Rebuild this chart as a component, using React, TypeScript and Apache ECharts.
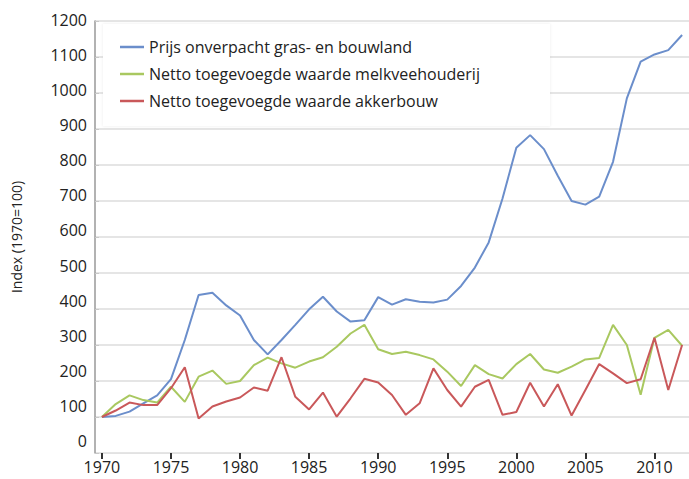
import React, { useEffect, useRef } from "react";
import * as echarts from "echarts";

const years: string[] = [
  "1970","1971","1972","1973","1974","1975","1976","1977","1978","1979",
  "1980","1981","1982","1983","1984","1985","1986","1987","1988","1989",
  "1990","1991","1992","1993","1994","1995","1996","1997","1998","1999",
  "2000","2001","2002","2003","2004","2005","2006","2007","2008","2009",
  "2010","2011","2012",
];

const grondprijs: number[] = [
  100, 103, 115, 138, 160, 205, 314, 439, 445, 410,
  382, 314, 274, 314, 356, 399, 434, 393, 365, 369,
  433, 412, 427, 420, 418, 426, 464, 515, 585, 707,
  848, 883, 844, 770, 700, 690, 712, 809, 985, 1087,
  1107, 1119, 1161,
];

const melkvee: number[] = [
  100, 136, 160, 147, 140, 184, 142, 212, 229, 192,
  200, 244, 265, 249, 237, 254, 266, 295, 332, 356,
  288, 275, 281, 272, 260, 226, 186, 244, 219, 207,
  247, 275, 232, 223, 240, 260, 264, 356, 300, 162,
  320, 342, 298,
];

const akkerbouw: number[] = [
  100, 118, 140, 133, 133, 180, 238, 96, 129, 143,
  154, 182, 173, 266, 156, 121, 168, 101, 152, 206,
  196, 161, 106, 138, 235, 175, 129, 184, 203, 106,
  114, 195, 129, 191, 104, 175, 247, 221, 194, 205,
  320, 175, 300,
];

const seriesNames: string[] = [
  "Prijs onverpacht gras- en bouwland",
  "Netto toegevoegde waarde melkveehouderij",
  "Netto toegevoegde waarde akkerbouw",
];

const FONT = "'Open Sans', 'Noto Sans', sans-serif";

// label styles: lower labels in the reference sit slightly above their gridlines
const labelRich: Record<string, any> = {};
for (let k = 0; k <= 12; k++) {
  const shift = Math.round(12 - (11 * k) / 12);
  labelRich["l" + k] = {
    fontSize: 16,
    color: "#222",
    fontFamily: FONT,
    padding: [0, 0, shift * 2, 0],
  };
}

export default function App() {
  const ref = useRef<HTMLDivElement>(null);

  useEffect(() => {
    if (!ref.current) return;
    const chart = echarts.init(ref.current, undefined, { renderer: "svg" });
    const lineSeries = (name: string, data: number[], color: string, z: number) => ({
      name,
      type: "line",
      data,
      showSymbol: false,
      symbol: "none",
      z,
      lineStyle: { color, width: 2 },
      itemStyle: { color },
    });
    chart.setOption({
      animation: false,
      backgroundColor: "#ffffff",
      textStyle: { fontFamily: FONT },
      grid: { left: 95, right: -7, top: 21, bottom: 26, containLabel: false },
      graphic: [
        {
          type: "rect",
          z: 1,
          shape: { x: 103, y: 24, width: 447, height: 102 },
          style: { fill: "#ffffff", shadowBlur: 3, shadowColor: "rgba(0,0,0,0.08)" },
        },
      ],
      legend: {
        orient: "vertical",
        left: 120,
        top: 38,
        padding: 0,
        itemGap: 9,
        itemWidth: 24,
        itemHeight: 2.5,
        icon: "rect",
        z: 5,
        data: seriesNames,
        textStyle: { fontSize: 16, color: "#222", lineHeight: 18, fontFamily: FONT },
      },
      xAxis: {
        type: "category",
        data: years,
        boundaryGap: true,
        axisLine: { show: true, lineStyle: { color: "#e2e2e2", width: 1 } },
        axisTick: {
          show: true,
          alignWithLabel: true,
          interval: 4,
          length: 6,
          lineStyle: { color: "#333", width: 2 },
        },
        axisLabel: { interval: 4, fontSize: 16, color: "#222", margin: 6, fontFamily: FONT },
        splitLine: { show: false },
      },
      yAxis: {
        type: "value",
        min: 0,
        max: 1200,
        interval: 100,
        name: "Index (1970=100)",
        nameLocation: "middle",
        nameGap: 72,
        nameRotate: 90,
        nameTextStyle: { fontSize: 14, color: "#222", fontFamily: FONT },
        axisLine: { show: true, lineStyle: { color: "#999", width: 1.5 } },
        axisTick: { show: true, inside: true, length: 4, lineStyle: { color: "#c8c8c8" } },
        axisLabel: {
          fontSize: 16,
          color: "#222",
          margin: 8,
          fontFamily: FONT,
          formatter: (v: number) => "{l" + Math.round(v / 100) + "|" + String(v) + "}",
          rich: labelRich,
        },
        splitLine: { show: true, lineStyle: { color: "#dcdcdc", width: 1.5 } },
      },
      series: [
        lineSeries(seriesNames[0], grondprijs, "#6b8ecb", 3),
        lineSeries(seriesNames[1], melkvee, "#a9c860", 3),
        lineSeries(seriesNames[2], akkerbouw, "#c9585a", 3),
      ],
    });
    return () => chart.dispose();
  }, []);

  return (
    <div
      ref={ref}
      style={{ position: "fixed", left: 0, top: 0, width: 689, height: 479 }}
    />
  );
}
